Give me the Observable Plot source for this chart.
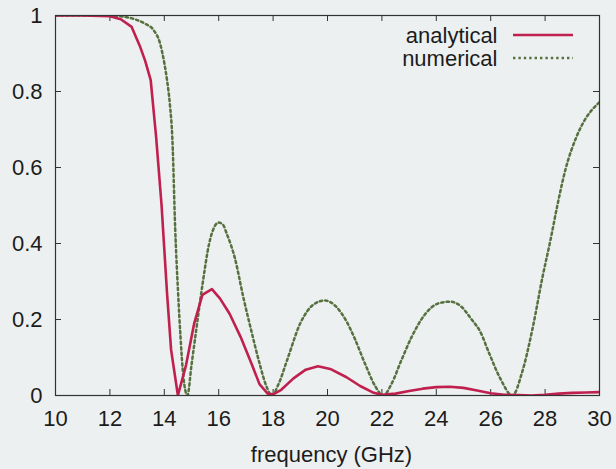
<!DOCTYPE html>
<html><head><meta charset="utf-8">
<script src="https://cdn.jsdelivr.net/npm/d3@7"></script>
<script src="https://cdn.jsdelivr.net/npm/@observablehq/plot@0.6"></script>
<style>
html,body{margin:0;padding:0;background:#edf0f0;}
#chart svg{display:block;}
</style></head><body><div id="chart"></div>
<script>
// ---- data ----
const freqAnalytical = [10,11,12,12.4,12.8,13.1,13.3,13.5,13.7,13.9,14.1,14.25,14.5,14.8,15.1,15.4,15.75,16.05,16.4,16.8,17.2,17.5,17.8,18.0,18.3,18.75,19.2,19.65,20.1,20.7,21.2,21.7,22.0,22.5,23.0,23.5,24.0,24.5,25.0,25.5,26.0,26.5,27.0,27.5,28.0,28.5,29,29.5,30];
const analytical = [1,1,0.998,0.99,0.97,0.92,0.88,0.83,0.68,0.5,0.27,0.12,0.0,0.08,0.19,0.265,0.28,0.255,0.215,0.155,0.085,0.03,0.005,0.003,0.015,0.045,0.068,0.077,0.07,0.048,0.025,0.007,0.002,0.005,0.012,0.018,0.022,0.023,0.02,0.013,0.006,0.002,0.001,0.0,0.002,0.005,0.007,0.008,0.009];
const freqNumerical = [10,11,12,12.5,13,13.3,13.6,13.85,14.0,14.1,14.2,14.3,14.4,14.5,14.6,14.7,14.85,15.0,15.15,15.4,15.65,15.85,16.0,16.15,16.3,16.6,16.9,17.2,17.5,17.75,17.95,18.2,18.5,19.0,19.5,19.9,20.3,20.7,21.0,21.4,21.75,22.05,22.35,22.7,23.1,23.6,24.1,24.5,24.9,25.3,25.6,25.95,26.35,26.8,27.15,27.55,27.9,28.2,28.45,28.75,29.15,29.5,29.9,30];
const numerical = [1,1,1,0.997,0.988,0.978,0.962,0.925,0.875,0.83,0.77,0.67,0.44,0.28,0.15,0.05,0.0,0.08,0.16,0.29,0.4,0.445,0.455,0.45,0.425,0.36,0.26,0.17,0.085,0.025,0.0,0.03,0.09,0.19,0.24,0.25,0.235,0.195,0.15,0.08,0.025,0.0,0.03,0.09,0.155,0.215,0.243,0.247,0.235,0.2,0.17,0.11,0.045,0.0,0.06,0.18,0.31,0.41,0.5,0.595,0.68,0.73,0.765,0.772];
const xTicks = [10,12,14,16,18,20,22,24,26,28,30];
const xTickLabels = ["10","12","14","16","18","20","22","24","26","28","30"];
const yTicks = [0,0.2,0.4,0.6,0.8,1];
const yTickLabels = ["0","0.2","0.4","0.6","0.8","1"];
const seriesNames = ["analytical","numerical"];
const xTitle = "frequency (GHz)";

// ---- styling ----
const W = 616, H = 469, mL = 55, mR = 17, mT = 15, mB = 74;
const innerW = W - mL - mR, innerH = H - mT - mB;
const red = "#c0204f", green = "#56703f", ink = "#1c1c1c", frameInk = "#333";
const font = "'Liberation Sans', Arial, Helvetica, sans-serif";
const tick = 6;
const dash = "2.4,3";

const dataA = freqAnalytical.map((f, i) => ({f, v: analytical[i]}));
const dataN = freqNumerical.map((f, i) => ({f, v: numerical[i]}));

const chart = Plot.plot({
  width: W, height: H,
  marginLeft: mL, marginRight: mR, marginTop: mT, marginBottom: mB,
  style: {background: "transparent", fontFamily: font, fontSize: "22px", color: ink},
  x: {domain: [10, 30]},
  y: {domain: [0, 1]},
  marks: [
    Plot.axisX(xTicks, {tickSize: 0, tickPadding: 15, fontSize: 22, label: null,
      tickFormat: d => xTickLabels[xTicks.indexOf(d)]}),
    Plot.axisY(yTicks, {tickSize: 0, tickPadding: 13, fontSize: 22, label: null,
      tickFormat: d => yTickLabels[yTicks.indexOf(d)]}),
    // inward ticks on all four sides
    Plot.ruleX(xTicks, {x: d => d, insetTop: innerH - tick, stroke: frameInk, strokeWidth: 1}),
    Plot.ruleX(xTicks, {x: d => d, insetBottom: innerH - tick, stroke: frameInk, strokeWidth: 1}),
    Plot.ruleY(yTicks, {y: d => d, insetRight: innerW - tick, stroke: frameInk, strokeWidth: 1}),
    Plot.ruleY(yTicks, {y: d => d, insetLeft: innerW - tick, stroke: frameInk, strokeWidth: 1}),
    Plot.line(dataN, {x: "f", y: "v", stroke: green, strokeWidth: 2.5, strokeDasharray: dash, curve: "monotone-x", clip: true}),
    Plot.line(dataA, {x: "f", y: "v", stroke: red, strokeWidth: 2.6, curve: "linear", clip: true}),
    Plot.frame({stroke: frameInk, strokeWidth: 1.2}),
    Plot.text([xTitle], {text: d => d, frameAnchor: "bottom", dx: 4, dy: 59, lineAnchor: "middle", fontSize: 22, fill: ink}),
    Plot.text([seriesNames[0]], {text: d => d, frameAnchor: "top-right", textAnchor: "end", lineAnchor: "middle", dx: -102, dy: 20, fontSize: 22, fill: ink}),
    Plot.text([seriesNames[1]], {text: d => d, frameAnchor: "top-right", textAnchor: "end", lineAnchor: "middle", dx: -102, dy: 43, fontSize: 22, fill: ink})
  ]
});

// legend samples
const svg = d3.select(chart);
const lg = svg.append("g");
lg.append("line").attr("x1", 513).attr("x2", 573).attr("y1", 35).attr("y2", 35)
  .attr("stroke", red).attr("stroke-width", 2.6);
lg.append("line").attr("x1", 513).attr("x2", 573).attr("y1", 58).attr("y2", 58)
  .attr("stroke", green).attr("stroke-width", 2.5).attr("stroke-dasharray", dash);

document.getElementById("chart").appendChild(chart);
</script></body></html>
